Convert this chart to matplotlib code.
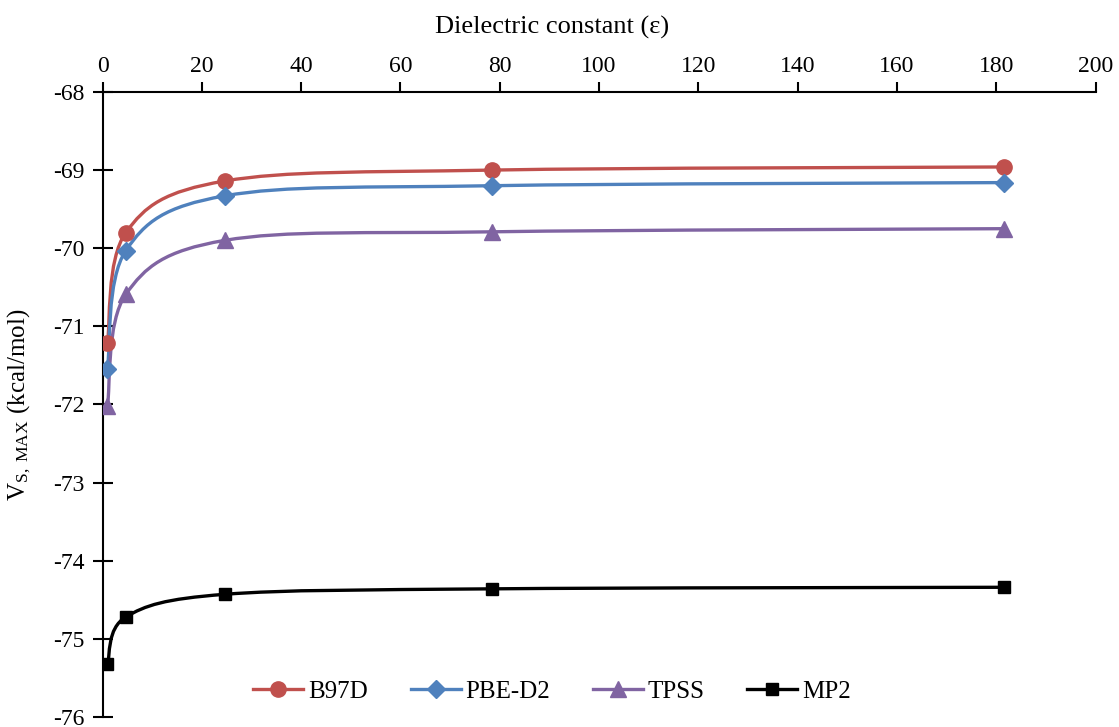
import numpy as np
import matplotlib
matplotlib.use("Agg")
import matplotlib.pyplot as plt
from matplotlib.path import Path
from matplotlib.patches import PathPatch
from matplotlib.lines import Line2D

plt.rcParams['font.family'] = 'Liberation Serif'
plt.rcParams['mathtext.fontset'] = 'stix'
plt.rcParams['axes.unicode_minus'] = False

# dielectric constants of the solvents
eps = [1.0, 4.7, 24.6, 78.4, 181.6]

b97d = [-71.21, -69.80, -69.14, -69.00, -68.96]
pbe_d2 = [-71.54, -70.03, -69.33, -69.20, -69.16]
tpss = [-72.02, -70.59, -69.90, -69.79, -69.75]
mp2 = [-75.32, -74.72, -74.43, -74.36, -74.34]

names = ['B97D', 'PBE-D2', 'TPSS', 'MP2']
colors = ['#C0504D', '#4F81BD', '#8064A2', 'black']
markers = ['o', 'D', '^', 's']
msizes = [11, 9, 11, 9]


def smooth_path(x, y):
    # excel-like smoothed line (catmull-rom -> bezier)
    pts = np.column_stack([x, y])
    n = len(pts)
    verts = [pts[0]]
    codes = [Path.MOVETO]
    for i in range(n - 1):
        p0 = pts[i - 1] if i > 0 else pts[i]
        p1 = pts[i]
        p2 = pts[i + 1]
        p3 = pts[i + 2] if i + 2 < n else pts[i + 1]
        c1 = p1 + (p2 - p0) / 6
        c2 = p2 - (p3 - p1) / 6
        verts += [c1, c2, p2]
        codes += [Path.CURVE4] * 3
    return Path(verts, codes)


fig = plt.figure(figsize=(11.19, 7.27), dpi=100)
ax = fig.add_axes([0.0916, 0.0138, 0.8874, 0.8597])

series = [b97d, pbe_d2, tpss, mp2]
handles = []
for vals, name, c, m, ms in zip(series, names, colors, markers, msizes):
    patch = PathPatch(smooth_path(eps, vals), facecolor='none', edgecolor=c,
                      lw=2.4, zorder=2)
    ax.add_patch(patch)
    ax.plot(eps, vals, linestyle='none', marker=m, ms=ms, color=c, zorder=3)
    handles.append(Line2D([], [], color=c, lw=2.4, marker=m, ms=ms, label=name))

ax.set_xlim(0, 200)
ax.set_ylim(-76, -68)
ax.set_xticks(np.arange(0, 201, 20))
ax.set_yticks(np.arange(-76, -67, 1))

ax.xaxis.tick_top()
ax.xaxis.set_label_position('top')
ax.spines['bottom'].set_visible(False)
ax.spines['right'].set_visible(False)
for s in ['top', 'left']:
    ax.spines[s].set_linewidth(1.5)
ax.tick_params(axis='x', direction='out', length=7, width=1.5, labelsize=17, pad=4)
ax.tick_params(axis='y', direction='inout', length=14, width=1.5, labelsize=17, pad=6)

ax.set_xlabel('Dielectric constant (ε)', fontsize=19)
ax.xaxis.set_label_coords(0.453, 1.094)
ax.set_ylabel(r'V$_{\mathregular{S,\ MAX}}$ (kcal/mol)', fontsize=18)
ax.yaxis.set_label_coords(-0.070, 0.5)

ax.legend(handles=handles, loc='lower center', bbox_to_anchor=(0.453, -0.014),
          ncol=4, frameon=False, fontsize=18, handlelength=2.0,
          columnspacing=1.7, handletextpad=0.2)

fig.savefig('out.png', dpi=100)
